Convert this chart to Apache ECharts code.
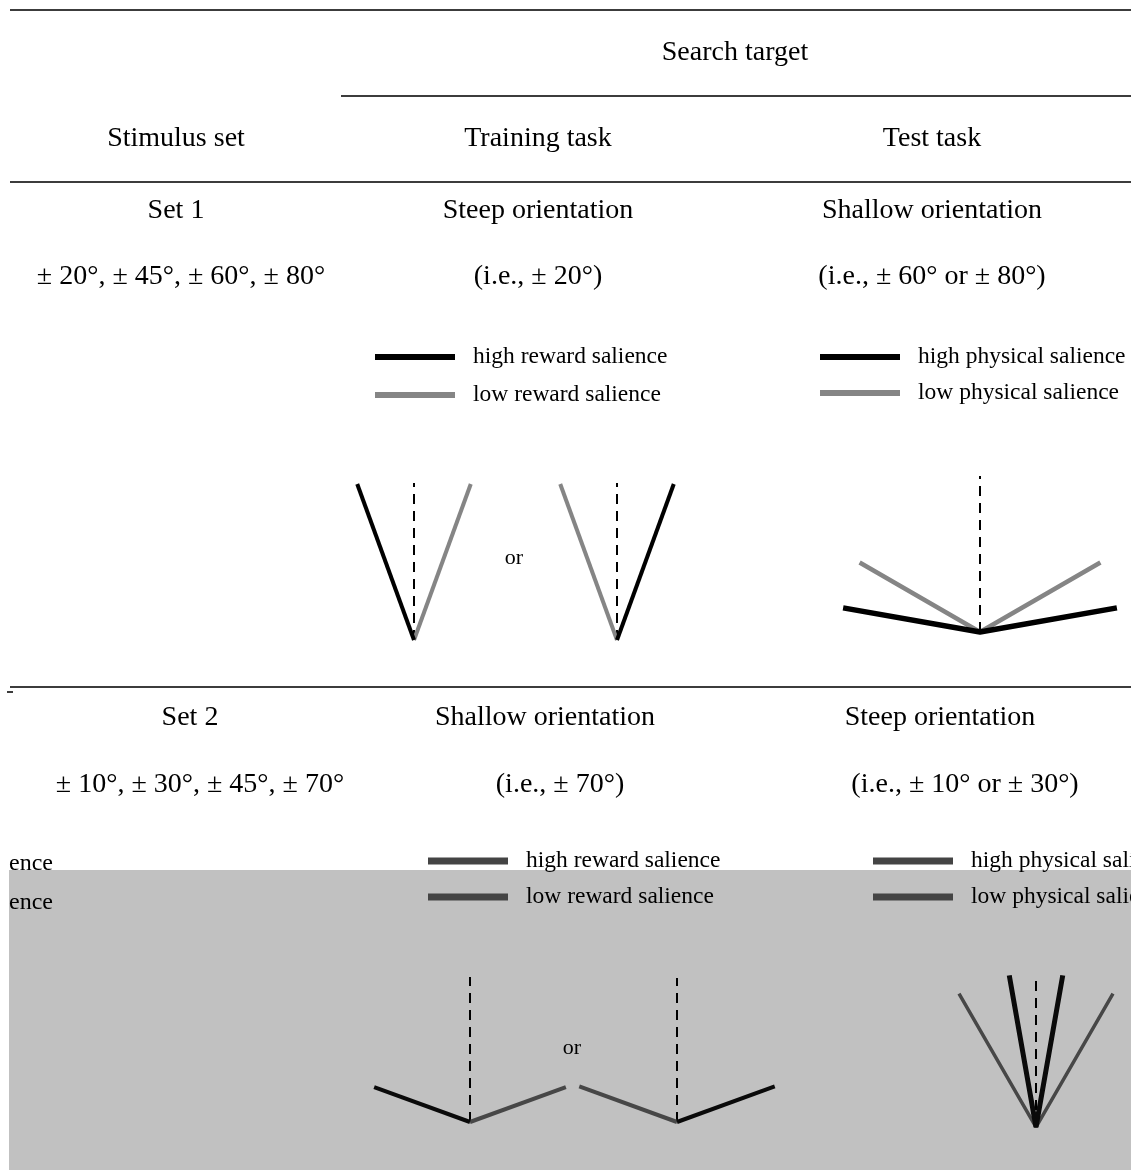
<!DOCTYPE html>
<html><head><meta charset="utf-8">
<script src="https://cdn.jsdelivr.net/npm/echarts@6/dist/echarts.min.js"></script>
<style>html,body{margin:0;padding:0;background:#fff}#c{width:1131px;height:1170px}</style>
</head><body><div id="c"></div><script>
// ---------------- data ----------------
const spanHeader = 'Search target';
const columnHeaders = ['Stimulus set', 'Training task', 'Test task'];
const set1Labels = ['Set 1', 'Steep orientation', 'Shallow orientation'];
const set1Details = ['± 20°, ± 45°, ± 60°, ± 80°', '(i.e., ± 20°)', '(i.e., ± 60° or ± 80°)'];
const set2Labels = ['Set 2', 'Shallow orientation', 'Steep orientation'];
const set2Details = ['± 10°, ± 30°, ± 45°, ± 70°', '(i.e., ± 70°)', '(i.e., ± 10° or ± 30°)'];
const rewardNames = ['high reward salience', 'low reward salience'];
const physicalNames = ['high physical salience', 'low physical salience'];
const orWord = 'or';
const wrapRemnants = ['ence', 'ence'];
// orientations in degrees from vertical (negative = tilted left)
const set1TrainLeftHigh = [-20];
const set1TrainLeftLow = [20];
const set1TrainRightHigh = [20];
const set1TrainRightLow = [-20];
const set1TestHigh = [-80, 80];
const set1TestLow = [-60, 60];
const set2TrainLeftHigh = [-70];
const set2TrainLeftLow = [70];
const set2TrainRightHigh = [70];
const set2TrainRightLow = [-70];
const set2TestHigh = [-10, 10];
const set2TestLow = [-30, 30];

// ---------------- layout / styles ----------------
const FONT = '"Liberation Serif", "Times New Roman", serif';
const H = 175, B = 15;
const diagrams = [
  {ox: 414, oy: 640, w: 100, len: 166, dash: 157, high: set1TrainLeftHigh, low: set1TrainLeftLow, names: rewardNames,
   hc: '#000', lc: '#858585', hw: 4, lw: 4},
  {ox: 617, oy: 640, w: 100, len: 166, dash: 157, high: set1TrainRightHigh, low: set1TrainRightLow, names: rewardNames,
   hc: '#000', lc: '#858585', hw: 4, lw: 4},
  {ox: 980, oy: 632, w: 145, len: 139, dash: 156, high: set1TestHigh, low: set1TestLow, names: physicalNames,
   hc: '#000', lc: '#858585', hw: 5.5, lw: 4.5},
  {ox: 470, oy: 1122, w: 110, len: 102, dash: 145, high: set2TrainLeftHigh, low: set2TrainLeftLow, names: rewardNames,
   hc: '#0a0a0a', lc: '#474747', hw: 4, lw: 4},
  {ox: 677, oy: 1122, w: 110, len: 104, dash: 144, high: set2TrainRightHigh, low: set2TrainRightLow, names: rewardNames,
   hc: '#0a0a0a', lc: '#474747', hw: 4, lw: 4},
  {ox: 1036, oy: 1127, w: 90, len: 154, dash: 149, high: set2TestHigh, low: set2TestLow, names: physicalNames,
   hc: '#0a0a0a', lc: '#474747', hw: 5, lw: 3.5}
];

function endPoint(deg, len) {
  const r = deg * Math.PI / 180;
  return [len * Math.sin(r), len * Math.cos(r)];
}
function polyline(angles, len) {
  if (angles.length === 1) return [[0, 0], endPoint(angles[0], len)];
  const s = angles.slice().sort((a, b) => a - b);
  return [endPoint(s[0], len), [0, 0], endPoint(s[1], len)];
}

const grids = [], xAxes = [], yAxes = [], series = [];
diagrams.forEach((d, i) => {
  grids.push({left: d.ox - d.w, top: d.oy - H, width: 2 * d.w, height: H + B, containLabel: false});
  xAxes.push({type: 'value', gridIndex: i, min: -d.w, max: d.w, show: false});
  yAxes.push({type: 'value', gridIndex: i, min: -B, max: H, show: false});
  const common = {type: 'line', xAxisIndex: i, yAxisIndex: i, symbol: 'none', silent: true,
    clip: false, animation: false};
  series.push(Object.assign({}, common, {name: 'vertical', z: 1,
    data: [[0, 0], [0, d.dash]], lineStyle: {color: '#000', width: 2, type: [10, 7]}}));
  series.push(Object.assign({}, common, {name: d.names[1], z: 2,
    data: polyline(d.low, d.len), itemStyle: {color: d.lc}, lineStyle: {color: d.lc, width: d.lw, cap: 'butt', join: 'bevel'}}));
  series.push(Object.assign({}, common, {name: d.names[0], z: 3,
    data: polyline(d.high, d.len), itemStyle: {color: d.hc}, lineStyle: {color: d.hc, width: d.hw, cap: 'butt', join: 'bevel'}}));
});

function mkLegend(names, left, top, gap, colors, h) {
  return {
    orient: 'vertical', left: left, top: top, itemGap: gap, itemWidth: 80, itemHeight: h,
    selectedMode: false, padding: 0,
    textStyle: {fontFamily: FONT, fontSize: 23.5, color: '#000', lineHeight: 24, padding: [0, 0, 0, 13]},
    data: names.map((n, k) => ({name: n, icon: 'rect', itemStyle: {color: colors[k], borderWidth: 0}}))
  };
}
const legends = [
  mkLegend(rewardNames, 375, 345, 14, ['#000', '#858585'], 6),
  mkLegend(physicalNames, 820, 345, 12, ['#000', '#858585'], 6),
  mkLegend(rewardNames, 428, 849, 12, ['#444', '#444'], 7),
  mkLegend(physicalNames, 873, 849, 12, ['#444', '#444'], 7)
];

function txt(t, x, y, size, align) {
  return {type: 'text', x: x, y: y, z: 5, silent: true,
    style: {text: t, fontFamily: FONT, fontSize: size, fill: '#000',
      align: align || 'center', verticalAlign: 'middle', textAlign: align || 'center', textVerticalAlign: 'middle'}};
}
function rule(x1, y, x2, w) {
  return {type: 'line', z: 5, silent: true, shape: {x1: x1, y1: y, x2: x2, y2: y},
    style: {stroke: '#3c3c3c', lineWidth: w || 2}};
}
const colX = [176, 538, 932];
const row2X = [190, 545, 940];
const row2dX = [200, 560, 965];
const graphics = [
  {type: 'rect', z: -10, silent: true, shape: {x: 9, y: 870, width: 1122, height: 300}, style: {fill: '#c1c1c1'}},
  rule(10, 10, 1131), rule(341, 96, 1131), rule(10, 182, 1131), rule(10, 687, 1131), rule(7, 692, 13, 2),
  txt(spanHeader, 735, 53, 28),
  txt(orWord, 514, 558, 22), txt(orWord, 572, 1048, 22),
  txt(wrapRemnants[0], 9, 864, 24, 'left'), txt(wrapRemnants[1], 9, 903, 24, 'left')
];
columnHeaders.forEach((t, k) => graphics.push(txt(t, colX[k], 139, 28)));
set1Labels.forEach((t, k) => graphics.push(txt(t, colX[k], 211, 28)));
set1Details.forEach((t, k) => graphics.push(txt(t, colX[k] + (k === 0 ? 5 : 0), 277, 28)));
set2Labels.forEach((t, k) => graphics.push(txt(t, row2X[k], 718, 28)));
set2Details.forEach((t, k) => graphics.push(txt(t, row2dX[k], 785, 28)));

const chart = echarts.init(document.getElementById('c'), null, {renderer: 'canvas'});
chart.setOption({
  backgroundColor: '#fff',
  animation: false,
  grid: grids, xAxis: xAxes, yAxis: yAxes, series: series,
  legend: legends,
  graphic: {elements: graphics}
});
</script></body></html>
